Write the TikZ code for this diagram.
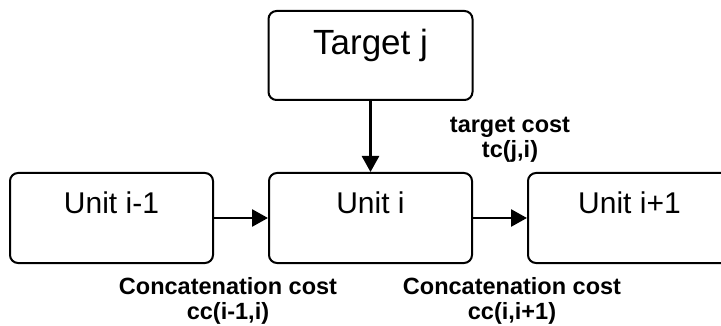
\documentclass[tikz,border=0pt]{standalone}
\usepackage{fontspec}
\setmainfont{Liberation Sans}
\usetikzlibrary{arrows.meta, positioning}

\begin{document}
\begin{tikzpicture}[x=1pt, y=1pt, line join=round,
    unitbox/.style={draw, line width=2pt, rounded corners=8pt, minimum width=203pt,
      inner xsep=0pt, inner ysep=19pt, text height=21.5pt, text depth=30.5pt,
      font=\fontsize{30}{30}\selectfont},
    targetbox/.style={unitbox, minimum width=204pt, inner ysep=17pt,
      text height=26.5pt, text depth=28.5pt, font=\fontsize{35}{35}\selectfont},
    costlabel/.style={anchor=north, inner sep=0pt, align=center,
      font=\fontsize{23.5}{25}\selectfont\bfseries},
    link/.style={line width=2.7pt, -{Triangle[length=16pt, width=17pt]}}]
    \useasboundingbox (0,0) rectangle (721,-326);
    % boxes
    \node[targetbox] (tgt) at (370.5,-55.5) {Target j};
    \node[unitbox] (uprev) at (111.5,-218) {Unit i-1};
    \node[unitbox] (ucur) at (370.5,-218) {Unit i};
    \node[unitbox] (unext) at (629.5,-218) {Unit i+1};
    % connectors
    \draw[link] (tgt) -- (ucur);
    \draw[link] (uprev) -- (ucur);
    \draw[link] (ucur) -- (unext);
    % costs
    \node[costlabel] (tclab) at (510,-117) {target cost\\tc(j,i)};
    \node[costlabel] (cclabprev) at (228,-277) {Concatenation cost\\cc(i-1,i)};
    \node[costlabel] (cclabnext) at (512,-277) {Concatenation cost\\cc(i,i+1)};
  \end{tikzpicture}
\end{document}
